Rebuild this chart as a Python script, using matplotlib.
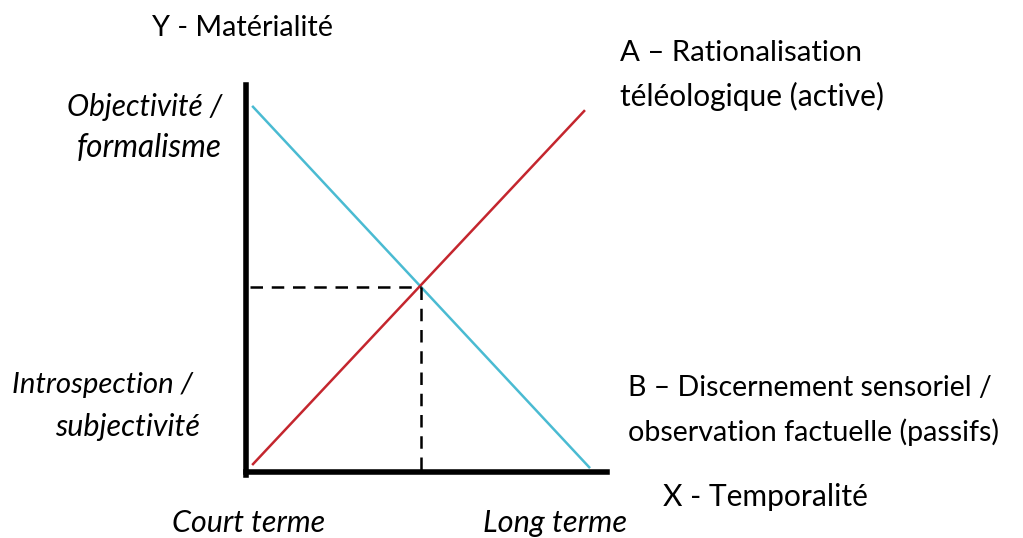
import matplotlib.pyplot as plt

# Conceptual diagram: two opposing tendencies over time
line_x_b = [0.017, 0.953]   # B - blue, descending
line_y_b = [0.946, 0.010]
line_x_a = [0.017, 0.939]   # A - red, ascending
line_y_a = [0.018, 0.935]
cross_x = 0.485
cross_y = 0.478

plt.rcParams['font.family'] = ['Lato', 'DejaVu Sans']

fig = plt.figure(figsize=(10.23, 5.38), dpi=100)
W, H = 1023, 538
ax = fig.add_axes([246 / W, (538 - 472) / H, 361 / W, 387 / H])
ax.set_xlim(0, 1)
ax.set_ylim(0, 1)

ax.plot(line_x_b, line_y_b, color='#4ABBD2', lw=1.8, solid_capstyle='butt')
ax.plot(line_x_a, line_y_a, color='#C4262E', lw=1.8, solid_capstyle='butt')
ax.plot([0.01, cross_x], [cross_y, cross_y], color='black', lw=1.8, ls=(0, (5, 3.5)))
ax.plot([cross_x, cross_x], [cross_y, 0], color='black', lw=1.8, ls=(0, (5, 3.5)))

for side in ['top', 'right']:
    ax.spines[side].set_visible(False)
ax.spines['left'].set_linewidth(4)
ax.spines['bottom'].set_linewidth(4)
ax.spines['left'].set_bounds(-0.008, 1)
ax.set_xticks([])
ax.set_yticks([])

renderer = fig.canvas.get_renderer()


def t(x0, x1, y, s, **kw):
    # place text with its left edge at x0 and scale it to span to x1 (pixels)
    txt = fig.text(x0 / W, 1 - y / H, s, fontsize=20, va='center', ha='left', **kw)
    w = txt.get_window_extent(renderer).width
    txt.set_fontsize(20 * (x1 - x0) / w)


t(152, 334, 28, 'Y - Matérialité')
t(620, 862, 53, 'A – Rationalisation')
t(620, 885, 96, 'téléologique (active)')
t(67, 222, 107, 'Objectivité /', style='italic')
t(77, 222, 148, 'formalisme', style='italic')
t(12, 193, 385, 'Introspection /', style='italic')
t(55, 200, 427, 'subjectivité', style='italic')
t(628, 993, 388, 'B – Discernement sensoriel /')
t(628, 1000, 432, 'observation factuelle (passifs)')
t(663, 868, 497, 'X - Temporalité')
t(172, 325, 523, 'Court terme', style='italic')
t(483, 627, 523, 'Long terme', style='italic')

fig.savefig('out.png', dpi=100)
